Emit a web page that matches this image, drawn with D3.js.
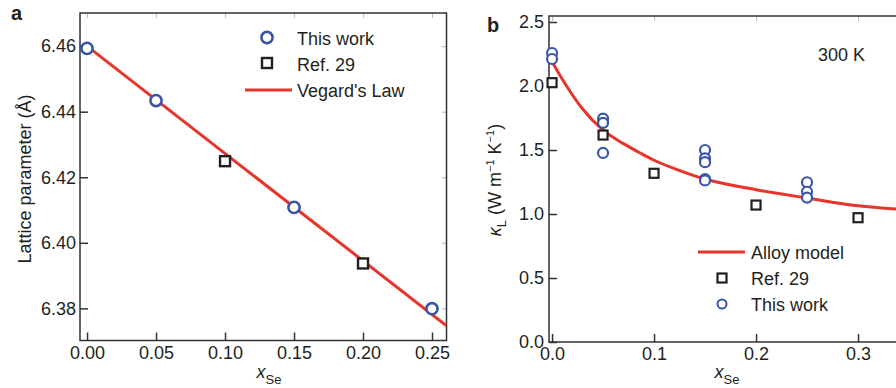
<!DOCTYPE html>
<html>
<head>
<meta charset="utf-8">
<script src="https://cdn.jsdelivr.net/npm/d3@7/dist/d3.min.js"></script>
<style>
  html, body { margin: 0; padding: 0; background: #fff; }
  svg { display: block; }
  text { font-family: "Liberation Sans", Arial, Helvetica, sans-serif; fill: #231f20; }
</style>
</head>
<body>
<svg id="chart" width="896" height="388"></svg>
<script>
// ---------- Panel a data ----------
const aThisWorkX = [0, 0.05, 0.15, 0.25];
const aThisWorkY = [6.4593, 6.4434, 6.4108, 6.3799];
const aRefX = [0.10, 0.20];
const aRefY = [6.4249, 6.3937];
const aVegardX = [0, 0.2605];
const aVegardY = [6.4600, 6.3747];
const aXTicks = [0, 0.05, 0.10, 0.15, 0.20, 0.25];
const aYTicks = [6.38, 6.40, 6.42, 6.44, 6.46];

// ---------- Panel b data ----------
const bThisWorkX = [0, 0, 0.05, 0.05, 0.05, 0.15, 0.15, 0.15, 0.15, 0.15, 0.25, 0.25, 0.25];
const bThisWorkY = [2.258, 2.211, 1.745, 1.712, 1.477, 1.50, 1.435, 1.405, 1.273, 1.262, 1.248, 1.174, 1.128];
const bRefX = [0, 0.05, 0.10, 0.20, 0.30];
const bRefY = [2.026, 1.617, 1.318, 1.070, 0.971];
const bAlloyX = [0, 0.015, 0.03, 0.05, 0.07, 0.0863, 0.10, 0.12, 0.15, 0.20, 0.25, 0.30, 0.345];
const bAlloyY = [2.19, 1.99, 1.82, 1.655, 1.55, 1.477, 1.42, 1.355, 1.273, 1.19, 1.125, 1.065, 1.035];
const bXTicks = [0, 0.1, 0.2, 0.3];
const bYTicks = [0, 0.5, 1.0, 1.5, 2.0, 2.5];

const BLUE = "#3a55a8", RED = "#e8342a", BLACK = "#231f20", AXIS = "#333";
const FS = 18;

const svg = d3.select("#chart");

function zip(xs, ys) { return xs.map((x, i) => [x, ys[i]]); }

// ================= Panel a =================
const ax = d3.scaleLinear().domain([-0.0051, 0.2605]).range([80, 446.5]);
const ay = d3.scaleLinear().domain([6.3702, 6.4701]).range([340.5, 13]);
const ga = svg.append("g");

ga.append("clipPath").attr("id", "clipA").append("rect")
  .attr("x", 80).attr("y", 13).attr("width", 366.5).attr("height", 327.5);

// faint top / right ticks
ga.append("g").attr("transform", "translate(0,13)")
  .call(d3.axisTop(ax).tickValues(aXTicks).tickSizeInner(-5).tickSizeOuter(0).tickFormat(""))
  .call(g => g.select(".domain").remove())
  .call(g => g.selectAll("line").attr("stroke", "#bbb"));
ga.append("g").attr("transform", "translate(446.5,0)")
  .call(d3.axisRight(ay).tickValues(aYTicks).tickSizeInner(-5).tickSizeOuter(0).tickFormat(""))
  .call(g => g.select(".domain").remove())
  .call(g => g.selectAll("line").attr("stroke", "#bbb"));

// bottom & left axes (inward ticks)
ga.append("g").attr("transform", "translate(0,340.5)")
  .call(d3.axisBottom(ax).tickValues(aXTicks).tickSizeInner(-8).tickSizeOuter(0).tickPadding(6).tickFormat(d3.format(".2f")))
  .call(g => g.select(".domain").remove())
  .call(g => g.selectAll("line").attr("stroke", AXIS).attr("stroke-width", 1.5))
  .call(g => g.selectAll("text").attr("font-size", FS).attr("fill", BLACK).attr("font-family", null));
ga.append("g").attr("transform", "translate(80,0)")
  .call(d3.axisLeft(ay).tickValues(aYTicks).tickSizeInner(-8).tickSizeOuter(0).tickPadding(4).tickFormat(d3.format(".2f")))
  .call(g => g.select(".domain").remove())
  .call(g => g.selectAll("line").attr("stroke", AXIS).attr("stroke-width", 1.5))
  .call(g => g.selectAll("text").attr("font-size", FS).attr("fill", BLACK).attr("font-family", null));

// frame
ga.append("rect").attr("x", 80).attr("y", 13).attr("width", 366.5).attr("height", 327.5)
  .attr("fill", "none").attr("stroke", AXIS).attr("stroke-width", 1.5);

// Vegard line
ga.append("path").datum(zip(aVegardX, aVegardY))
  .attr("clip-path", "url(#clipA)")
  .attr("d", d3.line().x(d => ax(d[0])).y(d => ay(d[1])))
  .attr("fill", "none").attr("stroke", RED).attr("stroke-width", 3);

// markers
ga.selectAll(".sqA").data(zip(aRefX, aRefY)).join("rect")
  .attr("x", d => ax(d[0]) - 5).attr("y", d => ay(d[1]) - 5)
  .attr("width", 10).attr("height", 10)
  .attr("fill", "#fff").attr("stroke", BLACK).attr("stroke-width", 2.4);
ga.selectAll(".cA").data(zip(aThisWorkX, aThisWorkY)).join("circle")
  .attr("cx", d => ax(d[0])).attr("cy", d => ay(d[1])).attr("r", 5.6)
  .attr("fill", "#fff").attr("stroke", BLUE).attr("stroke-width", 2.6);

// legend a
const la = ga.append("g");
la.append("circle").attr("cx", 267).attr("cy", 37.5).attr("r", 5.6)
  .attr("fill", "#fff").attr("stroke", BLUE).attr("stroke-width", 2.6);
la.append("text").attr("x", 297).attr("y", 45).attr("font-size", FS).text("This work");
la.append("rect").attr("x", 262).attr("y", 58).attr("width", 10).attr("height", 10)
  .attr("fill", "#fff").attr("stroke", BLACK).attr("stroke-width", 2.4);
la.append("text").attr("x", 297).attr("y", 71).attr("font-size", FS).text("Ref. 29");
la.append("line").attr("x1", 245).attr("x2", 292).attr("y1", 90).attr("y2", 90)
  .attr("stroke", RED).attr("stroke-width", 3);
la.append("text").attr("x", 297).attr("y", 97).attr("font-size", FS).text("Vegard's Law");

// titles a
ga.append("text").attr("x", 11).attr("y", 19.5).attr("font-size", 20).attr("font-weight", "bold").text("a");
ga.append("text").attr("transform", "translate(31,179) rotate(-90)")
  .attr("text-anchor", "middle").attr("font-size", FS).text("Lattice parameter (Å)");
const xa = ga.append("text").attr("x", 269).attr("y", 378).attr("text-anchor", "middle").attr("font-size", FS);
xa.append("tspan").attr("font-style", "italic").text("x");
xa.append("tspan").attr("font-size", 13).attr("dy", 6).text("Se");

// ================= Panel b =================
const bx = d3.scaleLinear().domain([-0.003, 0.3441]).range([549, 903]);
const by = d3.scaleLinear().domain([0, 2.547]).range([342, 16]);
const gb = svg.append("g");

gb.append("clipPath").attr("id", "clipB").append("rect")
  .attr("x", 549).attr("y", 16).attr("width", 354).attr("height", 326);

gb.append("g").attr("transform", "translate(0,16)")
  .call(d3.axisTop(bx).tickValues(bXTicks).tickSizeInner(-5).tickSizeOuter(0).tickFormat(""))
  .call(g => g.select(".domain").remove())
  .call(g => g.selectAll("line").attr("stroke", "#bbb"));

gb.append("g").attr("transform", "translate(0,342)")
  .call(d3.axisBottom(bx).tickValues(bXTicks).tickSizeInner(-8).tickSizeOuter(0).tickPadding(5).tickFormat(d3.format(".1f")))
  .call(g => g.select(".domain").remove())
  .call(g => g.selectAll("line").attr("stroke", AXIS).attr("stroke-width", 1.5))
  .call(g => g.selectAll("text").attr("font-size", FS).attr("fill", BLACK).attr("font-family", null));
gb.append("g").attr("transform", "translate(549,0)")
  .call(d3.axisLeft(by).tickValues(bYTicks).tickSizeInner(-8).tickSizeOuter(0).tickPadding(5).tickFormat(d3.format(".1f")))
  .call(g => g.select(".domain").remove())
  .call(g => g.selectAll("line").attr("stroke", AXIS).attr("stroke-width", 1.5))
  .call(g => g.selectAll("text").attr("font-size", FS).attr("fill", BLACK).attr("font-family", null));

gb.append("rect").attr("x", 549).attr("y", 16).attr("width", 354).attr("height", 326)
  .attr("fill", "none").attr("stroke", AXIS).attr("stroke-width", 1.5);

gb.append("path").datum(zip(bAlloyX, bAlloyY))
  .attr("clip-path", "url(#clipB)")
  .attr("d", d3.line().x(d => bx(d[0])).y(d => by(d[1])).curve(d3.curveMonotoneX))
  .attr("fill", "none").attr("stroke", RED).attr("stroke-width", 3);

gb.selectAll(".sqB").data(zip(bRefX, bRefY)).join("rect")
  .attr("x", d => bx(d[0]) - 4.5).attr("y", d => by(d[1]) - 4.5)
  .attr("width", 9).attr("height", 9)
  .attr("fill", "#fff").attr("stroke", BLACK).attr("stroke-width", 2.2);
gb.selectAll(".cB").data(zip(bThisWorkX, bThisWorkY)).join("circle")
  .attr("cx", d => bx(d[0])).attr("cy", d => by(d[1])).attr("r", 5)
  .attr("fill", "#fff").attr("stroke", BLUE).attr("stroke-width", 2.2);

// legend b
const lb = gb.append("g");
lb.append("line").attr("x1", 698).attr("x2", 745).attr("y1", 252).attr("y2", 252)
  .attr("stroke", RED).attr("stroke-width", 3);
lb.append("text").attr("x", 751).attr("y", 259).attr("font-size", FS).text("Alloy model");
lb.append("rect").attr("x", 717.5).attr("y", 273.5).attr("width", 9).attr("height", 9)
  .attr("fill", "#fff").attr("stroke", BLACK).attr("stroke-width", 2.2);
lb.append("text").attr("x", 751).attr("y", 285).attr("font-size", FS).text("Ref. 29");
lb.append("circle").attr("cx", 722).attr("cy", 304).attr("r", 4.5)
  .attr("fill", "#fff").attr("stroke", BLUE).attr("stroke-width", 2);
lb.append("text").attr("x", 751).attr("y", 311).attr("font-size", FS).text("This work");

gb.append("text").attr("x", 818).attr("y", 61).attr("font-size", FS).text("300 K");

gb.append("text").attr("x", 487).attr("y", 32).attr("font-size", 20).attr("font-weight", "bold").text("b");
const yb = gb.append("text").attr("transform", "translate(501,180) rotate(-90)")
  .attr("text-anchor", "middle").attr("font-size", FS);
yb.append("tspan").attr("font-style", "italic").text("κ");
yb.append("tspan").attr("font-size", 13).attr("dy", 5).text("L");
yb.append("tspan").attr("dy", -5).text(" (W m");
yb.append("tspan").attr("font-size", 11).attr("dy", -7).text("−1");
yb.append("tspan").attr("dy", 7).text(" K");
yb.append("tspan").attr("font-size", 11).attr("dy", -7).text("−1");
yb.append("tspan").attr("dy", 7).text(")");

const xb = gb.append("text").attr("x", 727).attr("y", 378).attr("text-anchor", "middle").attr("font-size", FS);
xb.append("tspan").attr("font-style", "italic").text("x");
xb.append("tspan").attr("font-size", 13).attr("dy", 6).text("Se");
</script>
</body>
</html>
